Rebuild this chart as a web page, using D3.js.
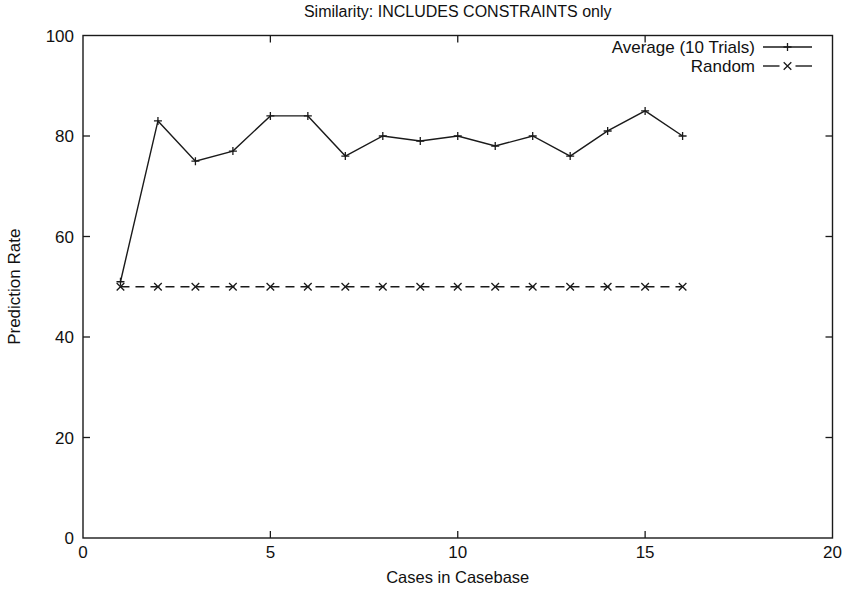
<!DOCTYPE html>
<html><head><meta charset="utf-8">
<script src="https://cdn.jsdelivr.net/npm/d3@7/dist/d3.min.js"></script>
<style>body{margin:0;background:#fff}svg{display:block}text{font-family:"Liberation Sans",Arial,sans-serif;fill:#111}</style>
</head><body><svg id="c" width="848" height="592"></svg>
<script>
const cases = [1,2,3,4,5,6,7,8,9,10,11,12,13,14,15,16];
const averageValues = [51,83,75,77,84,84,76,80,79,80,78,80,76,81,85,80];
const randomValues = [50,50,50,50,50,50,50,50,50,50,50,50,50,50,50,50];
const xTicks = [0,5,10,15,20];
const yTicks = [0,20,40,60,80,100];
const seriesNames = ["Average (10 Trials)","Random"];
const titleText = "Similarity: INCLUDES CONSTRAINTS only";
const xLabel = "Cases in Casebase";
const yLabel = "Prediction Rate";

const svg = d3.select("#c");
const L=83, R=832.5, T=35.5, B=538;
const x = d3.scaleLinear().domain([0,20]).range([L,R]);
const y = d3.scaleLinear().domain([0,100]).range([B,T]);
const ink="#1a1a1a";

svg.append("rect").attr("x",L).attr("y",T).attr("width",R-L).attr("height",B-T)
  .attr("fill","none").attr("stroke",ink).attr("stroke-width",1.4);

const tl=7;
const gx=svg.append("g");
xTicks.forEach(t=>{
  if(t>0&&t<20){
    gx.append("line").attr("x1",x(t)).attr("x2",x(t)).attr("y1",B).attr("y2",B-tl).attr("stroke",ink).attr("stroke-width",1.3);
    gx.append("line").attr("x1",x(t)).attr("x2",x(t)).attr("y1",T).attr("y2",T+tl).attr("stroke",ink).attr("stroke-width",1.3);
  }
  gx.append("text").attr("x",x(t)).attr("y",B+20).attr("text-anchor","middle").attr("font-size",17).text(t);
});
yTicks.forEach(t=>{
  if(t>0&&t<100){
    gx.append("line").attr("x1",L).attr("x2",L+tl).attr("y1",y(t)).attr("y2",y(t)).attr("stroke",ink).attr("stroke-width",1.3);
    gx.append("line").attr("x1",R).attr("x2",R-tl).attr("y1",y(t)).attr("y2",y(t)).attr("stroke",ink).attr("stroke-width",1.3);
  }
  gx.append("text").attr("x",L-9).attr("y",y(t)+6).attr("text-anchor","end").attr("font-size",17).text(t);
});

svg.append("text").attr("x",(L+R)/2).attr("y",17).attr("text-anchor","middle").attr("font-size",16).text(titleText);
svg.append("text").attr("x",(L+R)/2).attr("y",583).attr("text-anchor","middle").attr("font-size",16.5).text(xLabel);
svg.append("text").attr("transform",`translate(20,${(T+B)/2}) rotate(-90)`).attr("text-anchor","middle").attr("font-size",17).text(yLabel);

const line = d3.line().x((d,i)=>x(cases[i])).y(d=>y(d));
svg.append("path").datum(averageValues).attr("d",line).attr("fill","none").attr("stroke",ink).attr("stroke-width",1.4);
svg.append("path").datum(randomValues).attr("d",line).attr("fill","none").attr("stroke",ink).attr("stroke-width",1.4).attr("stroke-dasharray","9,6");

function plus(g,cx,cy){const s=4;
  g.append("path").attr("d",`M${cx-s},${cy}H${cx+s}M${cx},${cy-s}V${cy+s}`).attr("stroke",ink).attr("stroke-width",1.3);}
function cross(g,cx,cy){const s=3.8;
  g.append("path").attr("d",`M${cx-s},${cy-s}L${cx+s},${cy+s}M${cx-s},${cy+s}L${cx+s},${cy-s}`).attr("stroke",ink).attr("stroke-width",1.3);}
const gm=svg.append("g");
averageValues.forEach((v,i)=>plus(gm,x(cases[i]),y(v)));
randomValues.forEach((v,i)=>cross(gm,x(cases[i]),y(v)));

const lx0=763, lx1=812, ltx=755;
const ly=[47,66];
svg.append("text").attr("x",ltx).attr("y",ly[0]+6).attr("text-anchor","end").attr("font-size",17).text(seriesNames[0]);
svg.append("text").attr("x",ltx).attr("y",ly[1]+6).attr("text-anchor","end").attr("font-size",17).text(seriesNames[1]);
svg.append("line").attr("x1",lx0).attr("x2",lx1).attr("y1",ly[0]).attr("y2",ly[0]).attr("stroke",ink).attr("stroke-width",1.4);
plus(svg,(lx0+lx1)/2,ly[0]);
svg.append("line").attr("x1",lx0).attr("x2",(lx0+lx1)/2-8).attr("y1",ly[1]).attr("y2",ly[1]).attr("stroke",ink).attr("stroke-width",1.4);
svg.append("line").attr("x1",(lx0+lx1)/2+8).attr("x2",lx1).attr("y1",ly[1]).attr("y2",ly[1]).attr("stroke",ink).attr("stroke-width",1.4);
cross(svg,(lx0+lx1)/2,ly[1]);
</script></body></html>
